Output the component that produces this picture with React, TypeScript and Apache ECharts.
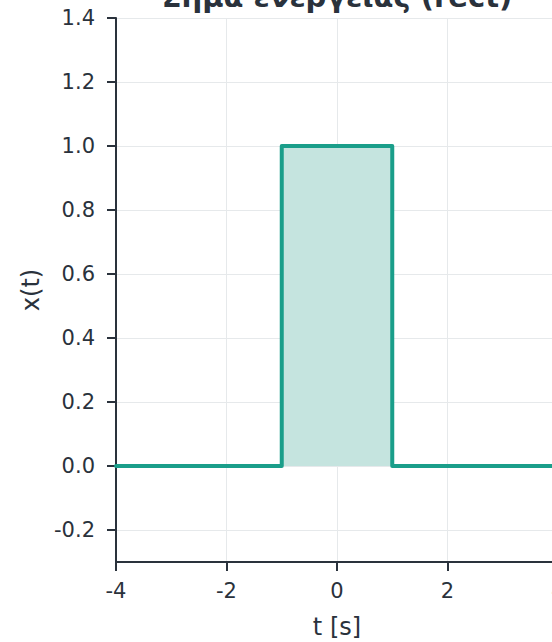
import React, { useEffect, useRef } from "react";
import * as echarts from "echarts";

const tValues = [-4, -1, -1, 1, 1, 4];
const xValues = [0, 0, 1, 1, 0, 0];
const xTicks = [-4, -2, 0, 2, 4];
const yTicks = [-0.2, 0, 0.2, 0.4, 0.6, 0.8, 1.0, 1.2, 1.4];
const titleText = "Σήμα ενέργειας (rect)";
const xName = "t [s]";
const yName = "x(t)";

const TEAL = "#1a9e8a";
const DARK = "#2a323c";
const FONT = "DejaVu Sans";

export default function App() {
  const ref = useRef<HTMLDivElement>(null);
  useEffect(() => {
    if (!ref.current) return;
    const chart = echarts.init(ref.current, undefined, { renderer: "svg" });
    chart.setOption({
      animation: false,
      backgroundColor: "#ffffff",
      textStyle: { fontFamily: FONT },
      graphic: [
        {
          type: "text",
          x: 337,
          y: 11,
          style: {
            text: titleText,
            font: `bold 29px "${FONT}"`,
            fill: DARK,
            textAlign: "center",
            textVerticalAlign: "bottom",
          },
        },
      ],
      grid: { left: 116, right: -6, top: 18, bottom: 80, containLabel: false, outerBoundsMode: "none" },
      xAxis: {
        type: "value",
        min: -4,
        max: 4,
        interval: 2,
        name: xName,
        nameLocation: "middle",
        nameGap: 53,
        nameTextStyle: { fontSize: 24, color: DARK, fontFamily: FONT },
        axisLine: { show: true, onZero: false, lineStyle: { color: DARK, width: 2 } },
        axisTick: { show: true, length: 9, lineStyle: { color: DARK, width: 2 } },
        axisLabel: {
          fontSize: 21,
          color: DARK,
          margin: 18,
          fontFamily: FONT,
          showMaxLabel: true,
          showMinLabel: true,
          hideOverlap: false,
          customValues: xTicks,
          formatter: (v: number) => String(v),
        },
        splitLine: { show: true, lineStyle: { color: "#e6e9eb", width: 1 } },
      },
      yAxis: {
        type: "value",
        min: -0.3,
        max: 1.4,
        name: yName,
        nameLocation: "middle",
        nameGap: 73,
        nameTextStyle: { fontSize: 24, color: DARK, fontFamily: FONT },
        axisLine: { show: true, onZero: false, lineStyle: { color: DARK, width: 2 } },
        axisTick: { show: true, length: 9, lineStyle: { color: DARK, width: 2 }, customValues: yTicks },
        axisLabel: {
          fontSize: 21,
          color: DARK,
          margin: 21,
          fontFamily: FONT,
          customValues: yTicks,
          formatter: (v: number) => v.toFixed(1),
        },
        splitLine: { show: true, lineStyle: { color: "#e6e9eb", width: 1 } },
      },
      series: [
        {
          type: "line",
          data: tValues.map((t, i) => [t, xValues[i]]),
          symbol: "none",
          lineStyle: { color: TEAL, width: 4, cap: "round", join: "round" },
          areaStyle: { color: "#c5e4df", opacity: 1, origin: 0 },
          clip: false,
        },
      ],
    });
    return () => chart.dispose();
  }, []);
  return <div ref={ref} style={{ width: 552, height: 642, position: "absolute", left: 0, top: 0 }} />;
}
